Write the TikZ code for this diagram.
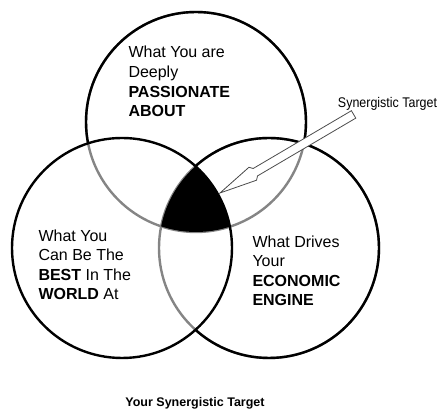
\documentclass[tikz,border=0pt]{standalone}
\usepackage{fontspec}
\setmainfont{Liberation Sans}
\tikzset{
  ring/.style={line width=2.4pt},
  hidden/.style={ring, draw=black!48},
  shown/.style={ring, draw=black},
  lbl/.style={font=\fontsize{16}{19.6}\selectfont, align=left, anchor=base west, inner sep=0pt},
  pointer/.style={draw=black!70, line width=0.8pt, fill=white, line join=miter},
}
\begin{document}
\begin{tikzpicture}[x=1pt,y=1pt]
\useasboundingbox (0,0) rectangle (440,409);
\coordinate (T) at (196,287);
\coordinate (L) at (122,161);
\coordinate (R) at (269,161);
\def\rad{110}
% top circle
\draw[hidden] (T) circle (\rad);
\begin{scope}[even odd rule]
  \clip (-10,-10) rectangle (450,420) (L) circle (\rad);
  \clip (-10,-10) rectangle (450,420) (R) circle (\rad);
  \draw[shown] (T) circle (\rad);
\end{scope}
% right circle
\draw[hidden] (R) circle (\rad);
\begin{scope}[even odd rule]
  \clip (-10,-10) rectangle (450,420) (L) circle (\rad);
  \draw[shown] (R) circle (\rad);
\end{scope}
% left circle
\draw[shown] (L) circle (\rad);
% synergistic region
\begin{scope}
  \clip (T) circle (\rad);
  \clip (L) circle (\rad);
  \fill (R) circle (\rad);
\end{scope}
% texts (anchor = baseline of last line)
\node[lbl] (passion) at (128.3,292.3) {What You are\\Deeply\\\textbf{PASSIONATE}\\\textbf{ABOUT}};
\node[lbl] (best) at (38.3,109) {What You\\Can Be The\\\textbf{BEST} In The\\\textbf{WORLD} At};
\node[lbl] (engine) at (252.3,103) {What Drives\\Your\\\textbf{ECONOMIC}\\\textbf{ENGINE}};
% pointer arrow
\coordinate (tip) at (220,216);
\begin{scope}[shift={(tip)}, rotate=30.46]
  \draw[pointer] (0,0) -- (38,7.5) -- (41,4.3) -- (155,4.3) -- (155,-4.3) -- (41,-4.3) -- (38,-7.5) -- cycle;
  \coordinate (tail) at (155,0);
\end{scope}
\node[anchor=base, inner sep=0pt, font=\fontsize{14}{16}\selectfont] (target) at (387.5,301.7) {\scalebox{0.89}[1]{Synergistic Target}};
\node[anchor=base, inner sep=0pt, font=\fontsize{12.5}{15}\selectfont\bfseries] (title) at (195,2.3) {Your Synergistic Target};
\end{tikzpicture}
\end{document}
